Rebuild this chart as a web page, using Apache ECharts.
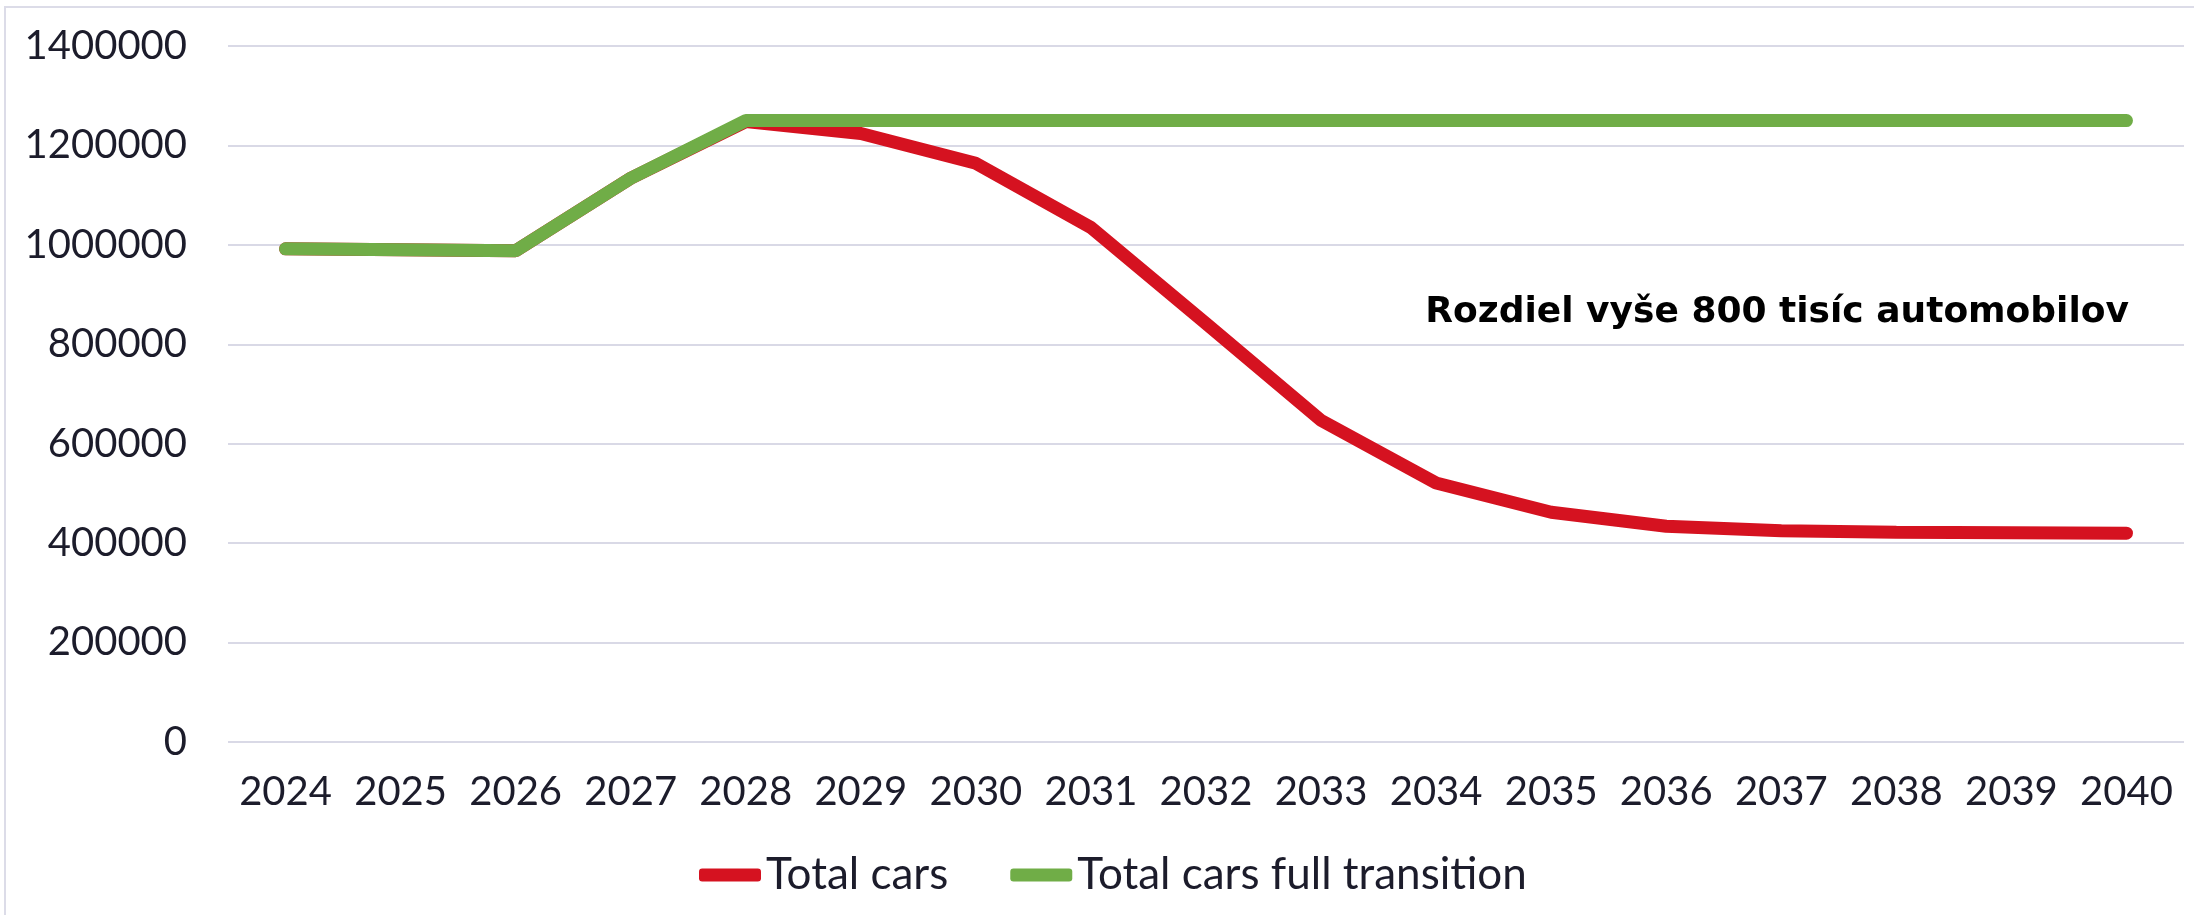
<!DOCTYPE html>
<html>
<head>
<meta charset="utf-8">
<script src="https://cdn.jsdelivr.net/npm/echarts@6/dist/echarts.min.js"></script>
<style>
  html, body { margin: 0; padding: 0; background: #fff; }
  #chart { width: 2194px; height: 915px; }
</style>
</head>
<body>
<div id="chart"></div>
<script>
// roky
var years = ['2024', '2025', '2026', '2027', '2028', '2029', '2030', '2031', '2032',
  '2033', '2034', '2035', '2036', '2037', '2038', '2039', '2040'];
// Total cars
var totalCars = [992000, 990000, 988000, 1134000, 1248000, 1224000, 1164000, 1035000, 842000,
  647000, 521000, 462000, 434000, 425000, 422000, 421000, 420000];
// Total cars full transition
var totalFull = [992000, 990000, 988000, 1134000, 1250000, 1250000, 1250000, 1250000, 1250000,
  1250000, 1250000, 1250000, 1250000, 1250000, 1250000, 1250000, 1250000];
var yTicks = [0, 200000, 400000, 600000, 800000, 1000000, 1200000, 1400000];
var note = 'Rozdiel vyše 800 tisíc automobilov';

var textColor = '#1c1c2b';
var font = 'Lato';

var myChart = echarts.init(document.getElementById('chart'));
myChart.setOption({
  animation: false,
  backgroundColor: '#fff',
  grid: { left: 228, right: 10, top: 46, bottom: 173 },
  legend: {
    left: 694,
    top: 848,
    itemWidth: 62,
    itemHeight: 13,
    itemGap: 62,
    textStyle: { color: textColor, fontFamily: font, fontSize: 44 },
    data: [
      { name: 'Total cars', icon: 'roundRect' },
      { name: 'Total cars full transition', icon: 'roundRect' }
    ]
  },
  xAxis: {
    type: 'category',
    data: years,
    boundaryGap: true,
    axisLine: { show: false },
    axisTick: { show: false },
    axisLabel: { color: textColor, fontFamily: font, fontSize: 40, margin: 30, interval: 0 }
  },
  yAxis: {
    type: 'value',
    min: yTicks[0],
    max: yTicks[yTicks.length - 1],
    interval: 200000,
    axisLine: { show: false },
    axisTick: { show: false },
    splitLine: { lineStyle: { color: '#d9d9e6', width: 2 } },
    axisLabel: {
      color: textColor, fontFamily: font, fontSize: 40, margin: 41,
      formatter: function (v) { return String(v); }
    }
  },
  graphic: [
    {
      type: 'rect',
      silent: true,
      shape: { x: 5, y: 7, width: 2400, height: 1200 },
      style: { fill: 'none', stroke: '#dcdce8', lineWidth: 2 }
    },
    {
      type: 'text',
      right: 2194 - 2129,
      top: 295,
      style: {
        text: note,
        fill: '#000',
        font: 'bold 36px "DejaVu Sans"',
        textAlign: 'right'
      }
    }
  ],
  series: [
    {
      name: 'Total cars',
      type: 'line',
      data: totalCars,
      symbol: 'none',
      itemStyle: { color: '#d51220' },
      lineStyle: { color: '#d51220', width: 13, cap: 'round', join: 'bevel' }
    },
    {
      name: 'Total cars full transition',
      type: 'line',
      data: totalFull,
      symbol: 'none',
      itemStyle: { color: '#70ad47' },
      lineStyle: { color: '#70ad47', width: 13, cap: 'round', join: 'bevel' }
    }
  ]
});
</script>
</body>
</html>
